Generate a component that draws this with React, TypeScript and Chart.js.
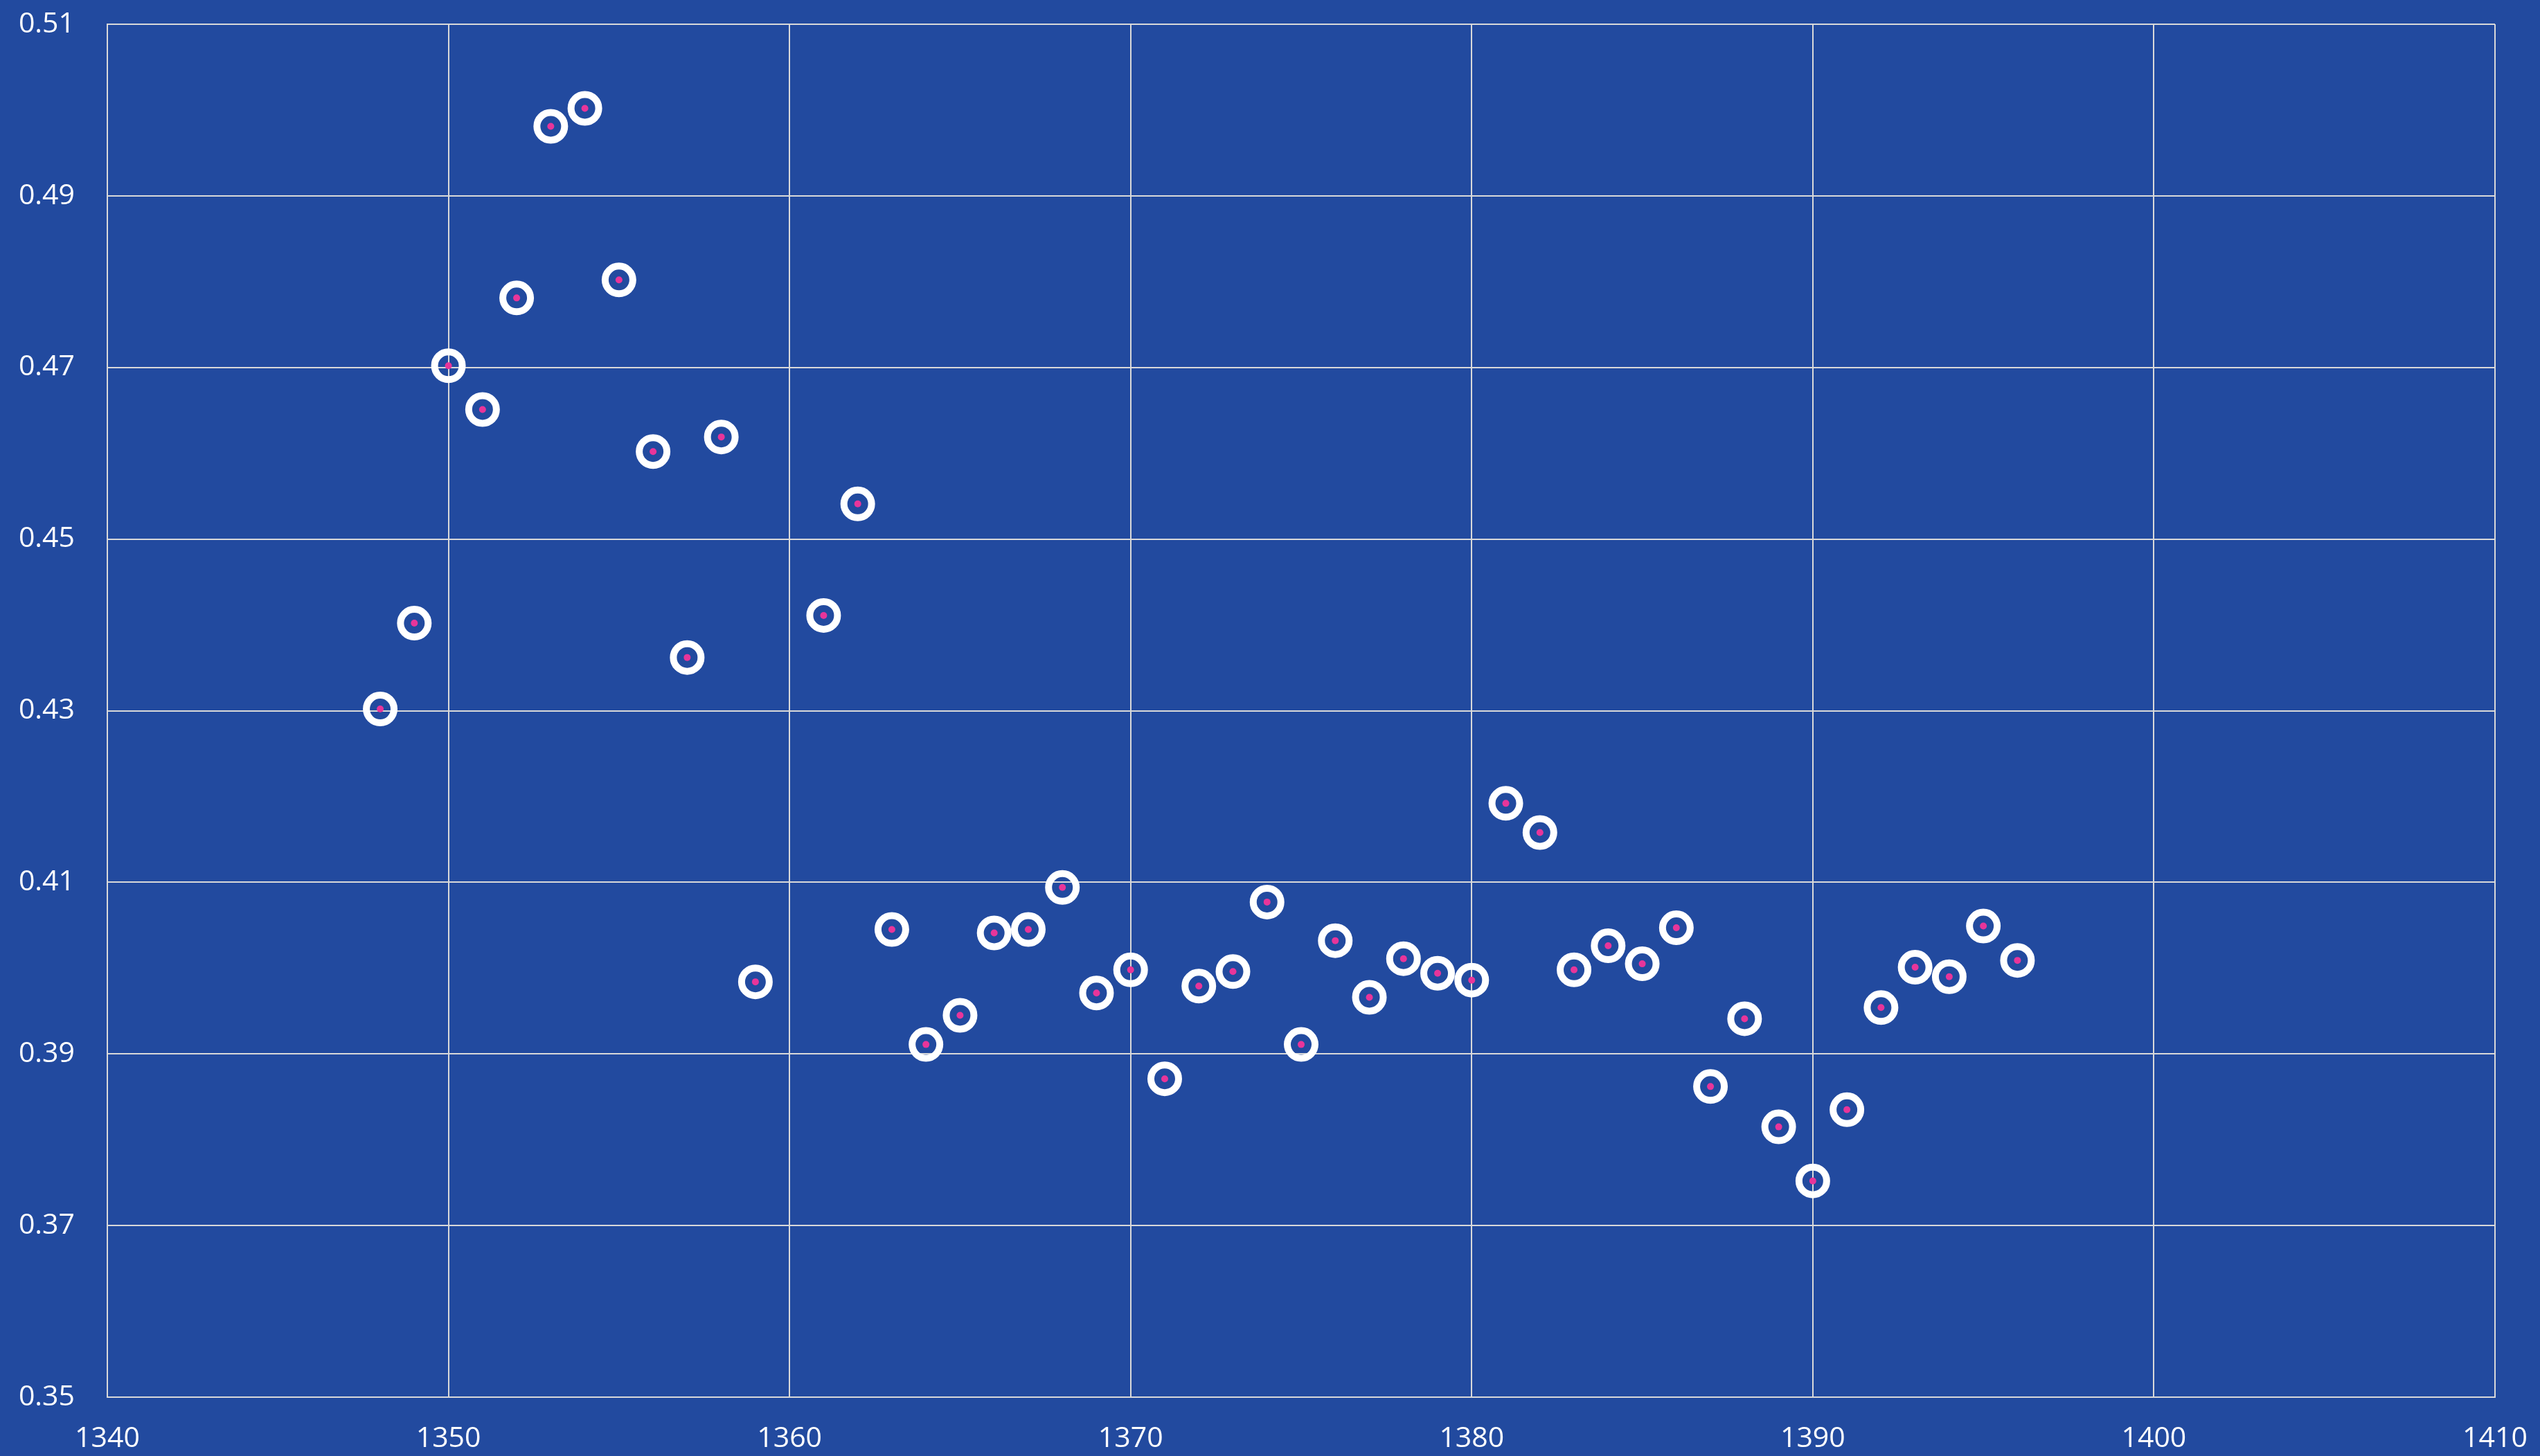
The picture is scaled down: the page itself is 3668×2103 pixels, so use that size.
import React, { useEffect, useRef } from "react";
import { Chart, registerables } from "chart.js";

Chart.register(...registerables);

const xValues: number[] = [
  1348, 1349, 1350, 1351, 1352, 1353, 1354, 1355, 1356, 1357, 1358, 1359,
  1361, 1362, 1363, 1364, 1365, 1366, 1367, 1368, 1369, 1370, 1371, 1372,
  1373, 1374, 1375, 1376, 1377, 1378, 1379, 1380, 1381, 1382, 1383, 1384,
  1385, 1386, 1387, 1388, 1389, 1390, 1391, 1392, 1393, 1394, 1395, 1396,
];
const yValues: number[] = [
  0.4302, 0.4402, 0.4702, 0.4651, 0.4781, 0.4981, 0.5002, 0.4802, 0.4602, 0.4362, 0.4619, 0.3984,
  0.4411, 0.4541, 0.4045, 0.3911, 0.3945, 0.4041, 0.4045, 0.4094, 0.3971, 0.3998, 0.3871, 0.3979,
  0.3996, 0.4077, 0.3911, 0.4032, 0.3966, 0.4011, 0.3994, 0.3986, 0.4192, 0.4158, 0.3998, 0.4026,
  0.4005, 0.4047, 0.3862, 0.3941, 0.3815, 0.3752, 0.3835, 0.3954, 0.4001, 0.3990, 0.4049, 0.4009,
];
const xTicks = { min: 1340, max: 1410, step: 10 };
const yTicks = { min: 0.35, max: 0.51, step: 0.02 };

const BG = "#224A9F";
const GRID = "#D9D9D9";
const PINK = "#E8359A";

export default function App() {
  const ref = useRef<HTMLCanvasElement | null>(null);
  useEffect(() => {
    if (!ref.current) return;
    const pts = xValues.map((x, i) => ({ x, y: yValues[i] }));
    const font = { family: "'Open Sans', sans-serif", size: 41 };
    const chart = new Chart(ref.current, {
      type: "scatter",
      data: {
        datasets: [
          {
            data: pts,
            pointRadius: 5,
            pointHoverRadius: 5,
            pointBackgroundColor: PINK,
            pointBorderWidth: 0,
            pointBorderColor: PINK,
          },
          {
            data: pts,
            pointRadius: 20,
            pointHoverRadius: 20,
            pointBackgroundColor: "rgba(0,0,0,0)",
            pointBorderColor: "#FFFFFF",
            pointBorderWidth: 10,
          },
        ],
      },
      options: {
        responsive: false,
        animation: false,
        devicePixelRatio: 1,
        layout: { padding: { top: 35, right: 65, bottom: 0, left: 0 } },
        plugins: { legend: { display: false }, tooltip: { enabled: false } },
        scales: {
          x: {
            type: "linear",
            min: xTicks.min,
            max: xTicks.max,
            afterFit: (s: any) => {
              s.height = 85;
              s.paddingLeft = 0;
              s.paddingRight = 0;
            },
            ticks: {
              stepSize: xTicks.step,
              color: "#FFFFFF",
              font,
              padding: 36,
              maxRotation: 0,
              callback: (v: any) => String(v),
            },
            grid: { color: GRID, lineWidth: 2, drawTicks: false },
            border: { display: true, color: GRID, width: 2 },
          },
          y: {
            type: "linear",
            min: yTicks.min,
            max: yTicks.max,
            afterFit: (s: any) => {
              s.width = 155;
              s.paddingTop = 0;
              s.paddingBottom = 0;
            },
            ticks: {
              stepSize: yTicks.step,
              color: "#FFFFFF",
              font,
              padding: 47,
              callback: (v: any) => Number(v).toFixed(2),
            },
            grid: { color: GRID, lineWidth: 2, drawTicks: false },
            border: { display: true, color: GRID, width: 2 },
          },
        },
      },
    });
    return () => chart.destroy();
  }, []);
  return (
    <div style={{ position: "absolute", left: 0, top: 0, width: 3668, height: 2103, background: BG }}>
      <canvas ref={ref} width={3668} height={2103} style={{ display: "block" }} />
    </div>
  );
}
